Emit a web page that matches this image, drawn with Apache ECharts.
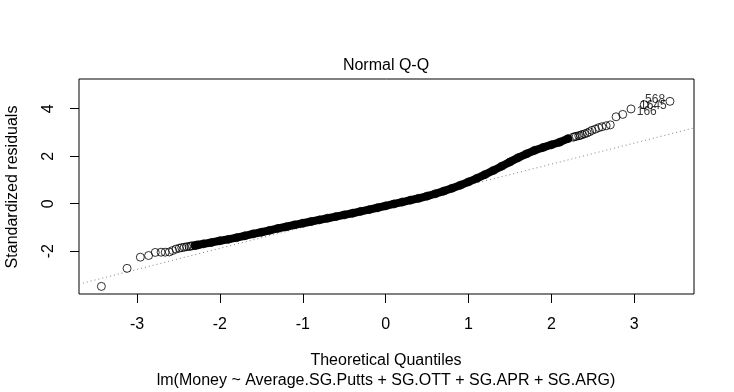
<!DOCTYPE html>
<html>
<head>
<meta charset="utf-8">
<script src="https://cdn.jsdelivr.net/npm/echarts@6/dist/echarts.min.js"></script>
<style>
html,body{margin:0;padding:0;background:#fff;}
#chart{width:734px;height:392px;}
</style>
</head>
<body>
<div id="chart"></div>
<script>
// Theoretical quantiles (x) and standardized residuals (y)
const theoreticalQ = [
  -3.43,-3.12,-2.96,-2.86,-2.78,-2.71,-2.66,-2.61,-2.57,-2.53,-2.49,-2.46,-2.43,-2.40,-2.37,-2.35,-2.33,-2.30,-2.28,-2.26,
  -2.2,-2.1,-2.0,-1.9,-1.8,-1.7,-1.6,-1.5,-1.4,-1.3,-1.2,-1.1,-1.0,-0.9,-0.8,-0.7,-0.6,-0.5,-0.4,-0.3,-0.2,-0.1,
  0.0,0.1,0.2,0.3,0.4,0.5,0.6,0.7,0.8,0.9,1.0,1.1,1.2,1.3,1.4,1.5,1.6,1.7,1.8,1.9,2.0,2.1,2.2,
  2.26,2.28,2.30,2.33,2.35,2.37,2.40,2.43,2.46,2.49,2.53,2.57,2.61,2.66,2.71,2.78,2.86,2.96,3.12,3.43
];
const stdResiduals = [
  -3.48,-2.72,-2.25,-2.18,-2.05,-2.04,-2.04,-2.03,-1.97,-1.91,-1.87,-1.85,-1.83,-1.81,-1.80,-1.78,-1.77,-1.76,-1.74,-1.73,
  -1.69,-1.63,-1.56,-1.50,-1.43,-1.35,-1.27,-1.20,-1.12,-1.04,-0.97,-0.89,-0.82,-0.75,-0.68,-0.61,-0.54,-0.47,-0.40,-0.32,-0.25,-0.17,
  -0.09,-0.01,0.07,0.15,0.23,0.32,0.42,0.53,0.65,0.78,0.92,1.07,1.23,1.40,1.58,1.76,1.94,2.10,2.25,2.37,2.48,2.59,2.74,
  2.80,2.82,2.84,2.86,2.88,2.91,2.94,2.98,3.03,3.09,3.14,3.20,3.24,3.28,3.32,3.66,3.76,3.99,4.17,4.31
];
// range of quantiles where the points overlap into a solid band
const denseFrom = -2.3, denseTo = 2.2;
// reference line (qqline) through the quartiles
const qqIntercept = -0.105, qqSlope = 0.886;
// identified observations: labels and their text positions
const idLabels = ["568","1645","166"];
const idQ = [3.25, 3.23, 3.15];
const idR = [4.37, 4.12, 3.89];
// axis ticks
const xTicks = [-3,-2,-1,0,1,2,3];
const yTicks = [-2,0,2,4];
const xRange = [-3.70, 3.72];
const yRange = [-3.80, 5.25];

const FONT = 'Liberation Sans, Arial, Helvetica, sans-serif';
const pts = theoreticalQ.map((q,i)=>[q, stdResiduals[i]]);
const dense = pts.filter(p => p[0] >= denseFrom && p[0] <= denseTo);
const qqLineData = xRange.map(x => [x, qqIntercept + qqSlope * x]);
const idData = idLabels.map((t,i)=>({name:t, value:[idQ[i], idR[i]]}));

const chart = echarts.init(document.getElementById('chart'), null, {renderer:'canvas'});
chart.setOption({
  animation:false,
  backgroundColor:'#fff',
  grid:{left:79, right:40, top:79, bottom:98, show:true, borderColor:'#000', borderWidth:1, containLabel:false},
  xAxis:{
    type:'value', min:xRange[0], max:xRange[1],
    axisLine:{show:false, onZero:false},
    splitLine:{show:false},
    axisTick:{show:true, inside:false, length:9, lineStyle:{color:'#000', width:1}, customValues:xTicks},
    axisLabel:{show:true, margin:23, color:'#000', fontFamily:FONT, fontSize:16, customValues:xTicks}
  },
  yAxis:{
    type:'value', min:yRange[0], max:yRange[1],
    axisLine:{show:false, onZero:false},
    splitLine:{show:false},
    axisTick:{show:true, inside:false, length:9, lineStyle:{color:'#000', width:1}, customValues:yTicks},
    axisLabel:{show:true, margin:22, rotate:90, color:'#000', fontFamily:FONT, fontSize:16, customValues:yTicks}
  },
  series:[
    {type:'line', data:qqLineData, symbol:'none', silent:true,
     lineStyle:{color:'#808080', width:1, type:[1,3]}, z:1},
    {type:'line', data:dense, symbol:'none', silent:true,
     lineStyle:{color:'#000', width:8, cap:'round', join:'round'}, z:2},
    {type:'scatter', data:pts, symbol:'circle', symbolSize:8, silent:true,
     itemStyle:{color:'rgba(0,0,0,0)', borderColor:'#000', borderWidth:1}, z:3},
    {type:'scatter', data:idData, symbolSize:0, silent:true, z:4,
     itemStyle:{color:'rgba(0,0,0,0)'},
     label:{show:true, position:'inside', formatter:'{b}', color:'#000', fontFamily:FONT, fontSize:12}}
  ],
  graphic:[
    {type:'text', x:386, y:66, style:{text:'Normal Q-Q', font:'16px '+FONT, fill:'#000', textAlign:'center', textVerticalAlign:'middle'}},
    {type:'text', x:386, y:361, style:{text:'Theoretical Quantiles', font:'16px '+FONT, fill:'#000', textAlign:'center', textVerticalAlign:'middle'}},
    {type:'text', x:386, y:381, style:{text:'lm(Money ~ Average.SG.Putts + SG.OTT + SG.APR + SG.ARG)', font:'16px '+FONT, fill:'#000', textAlign:'center', textVerticalAlign:'middle'}},
    {type:'text', x:13, y:187, rotation:Math.PI/2, style:{text:'Standardized residuals', font:'16px '+FONT, fill:'#000', textAlign:'center', textVerticalAlign:'middle'}}
  ]
});
</script>
</body>
</html>
